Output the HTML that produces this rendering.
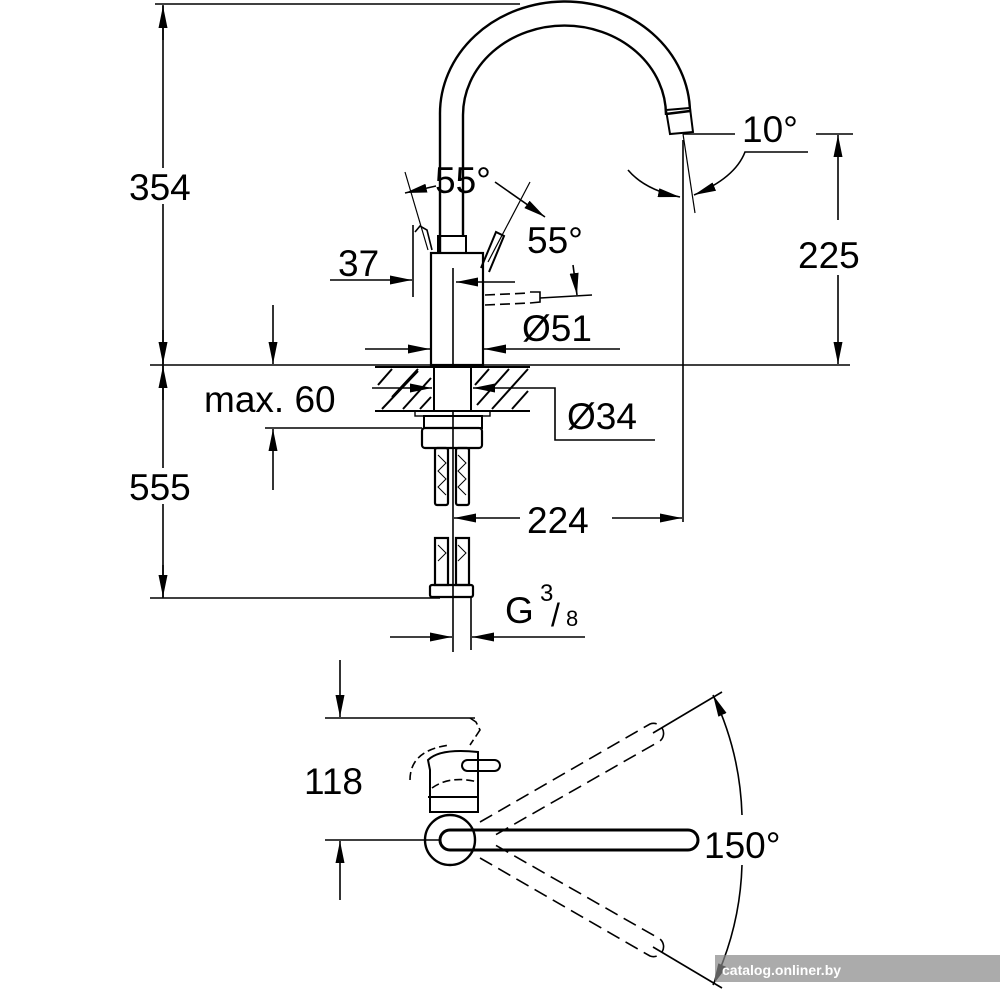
<!DOCTYPE html>
<html><head><meta charset="utf-8"><style>
html,body{margin:0;padding:0;background:#fff;}
svg{display:block;}
text{font-family:"Liberation Sans",sans-serif;fill:#000;}
</style></head><body>
<svg width="1000" height="1000" viewBox="0 0 1000 1000" xmlns="http://www.w3.org/2000/svg">
<defs>
<marker id="a" viewBox="0 0 10 10" refX="10" refY="5" markerWidth="22" markerHeight="9" markerUnits="userSpaceOnUse" orient="auto" preserveAspectRatio="none"><path d="M0,0 L10,5 L0,10z" fill="#000"/></marker>
</defs>
<g stroke="#000" stroke-width="1.6" fill="none">
<!-- left dimension 354/555 -->
<line x1="163" y1="5" x2="163" y2="598"/>
<line x1="155" y1="4" x2="520" y2="4"/>
<line x1="150" y1="365" x2="850" y2="365"/>
<line x1="150" y1="598" x2="440" y2="598"/>
<line x1="163" y1="330" x2="163" y2="364" marker-end="url(#a)"/>
<line x1="163" y1="40" x2="163" y2="6" marker-end="url(#a)"/>
<line x1="163" y1="400" x2="163" y2="366" marker-end="url(#a)"/>
<line x1="163" y1="565" x2="163" y2="597" marker-end="url(#a)"/>
<!-- spout -->
<path d="M440,253 L440,115 A125,112 0 0 1 690,112" stroke-width="2.4"/>
<path d="M463,235 L463,115 A101,89 0 0 1 666,115" stroke-width="2.4"/>
<path d="M666,110 L670,134 L693,132 L690,108z" stroke-width="2" fill="#fff"/>
<line x1="666" y1="114" x2="690" y2="111" stroke-width="2.4"/>
<!-- body -->
<rect x="431" y="253" width="52" height="112" stroke-width="2.2"/>
<rect x="438" y="236" width="28" height="17" stroke-width="2"/>
<line x1="453" y1="268" x2="453" y2="652"/>
<!-- lever right -->
<path d="M481,268 L496,232 L504,236 L489,272" stroke-width="2"/>
<path d="M415,232 L420,226 L427,230 L432,250" stroke-width="1.6"/>
<line x1="405" y1="172" x2="428" y2="250" stroke-width="1.2"/>
<line x1="530" y1="182" x2="488" y2="262" stroke-width="1.2"/>
<path d="M436,186 L405,193" marker-end="url(#a)"/>
<path d="M495,182 L545,217" marker-end="url(#a)"/>
<!-- 37 -->
<line x1="330" y1="280" x2="412" y2="280" marker-end="url(#a)"/>
<line x1="413" y1="225" x2="413" y2="297"/>
<line x1="515" y1="282" x2="456" y2="282" marker-end="url(#a)"/>
<!-- dashed lever -->
<path d="M485,295 L530,293 M485,305 L530,303" stroke-dasharray="10 5"/>
<path d="M530,292 L540,292 L540,302 L530,303"/>
<line x1="540" y1="298" x2="592" y2="295"/>
<line x1="573" y1="265" x2="577" y2="295" marker-end="url(#a)"/>
<!-- Ø51 -->
<line x1="365" y1="349" x2="430" y2="349" marker-end="url(#a)"/>
<line x1="620" y1="349" x2="484" y2="349" marker-end="url(#a)"/>
<!-- counter hatch -->
<g stroke-width="2">
<path d="M378,385 L392,369 M392,397 L418,369 M382,409 L418,371 M403,409 L431,378 M420,409 L431,397"/>
<path d="M475,385 L489,369 M477,405 L509,369 M492,409 L528,369 M512,409 L528,391"/>
</g>
<line x1="375" y1="367" x2="530" y2="367" stroke-width="2"/>
<line x1="375" y1="411" x2="530" y2="411" stroke-width="2"/>
<rect x="434" y="367" width="37" height="44" fill="#fff" stroke-width="2"/>
<line x1="372" y1="388" x2="432" y2="388" marker-end="url(#a)"/>
<line x1="520" y1="388" x2="473" y2="388" marker-end="url(#a)"/>
<path d="M520,388 L555,388 L555,440 L655,440"/>
<!-- nut -->
<rect x="415" y="411" width="75" height="5" stroke-width="1.4"/>
<rect x="424" y="416" width="58" height="12" stroke-width="2"/>
<rect x="422" y="428" width="60" height="20" rx="3" stroke-width="2.2"/>
<!-- hoses -->
<g stroke-width="2.2">
<rect x="435" y="448" width="13" height="57" rx="2"/>
<rect x="456" y="448" width="13" height="57" rx="2"/>
<rect x="435" y="538" width="13" height="47"/>
<rect x="456" y="538" width="13" height="47"/>
<rect x="430" y="585" width="43" height="12" rx="2"/>
</g>
<path d="M438,455 L446,463 L438,471 L446,479 L438,487 L446,495 M458,455 L466,463 L458,471 L466,479 L458,487 L466,495 M438,545 L446,553 L438,561 M458,545 L466,553 L458,561" stroke-width="1"/>
<!-- max 60 -->
<line x1="273" y1="305" x2="273" y2="364" marker-end="url(#a)"/>
<line x1="273" y1="490" x2="273" y2="429" marker-end="url(#a)"/>
<line x1="265" y1="428" x2="422" y2="428"/>
<!-- 224 -->
<line x1="683" y1="140" x2="683" y2="522"/>
<line x1="520" y1="518" x2="454" y2="518" marker-end="url(#a)"/>
<line x1="612" y1="518" x2="682" y2="518" marker-end="url(#a)"/>
<!-- G3/8 -->
<line x1="471" y1="598" x2="471" y2="650"/>
<line x1="390" y1="637" x2="452" y2="637" marker-end="url(#a)"/>
<line x1="585" y1="637" x2="472" y2="637" marker-end="url(#a)"/>
<!-- 10° / 225 -->
<line x1="683" y1="134" x2="735" y2="134"/>
<line x1="816" y1="134" x2="853" y2="134"/>
<line x1="683" y1="134" x2="695" y2="213" stroke-width="1.2"/>
<path d="M808,152 L745,152 Q735,178 694,195" marker-end="url(#a)"/>
<path d="M628,170 Q645,190 680,197" marker-end="url(#a)"/>
<line x1="838" y1="220" x2="838" y2="135" marker-end="url(#a)"/>
<line x1="838" y1="275" x2="838" y2="364" marker-end="url(#a)"/>
<!-- top view -->
<line x1="340" y1="660" x2="340" y2="717" marker-end="url(#a)"/>
<line x1="325" y1="718" x2="475" y2="718"/>
<line x1="340" y1="900" x2="340" y2="841" marker-end="url(#a)"/>
<line x1="325" y1="840" x2="440" y2="840"/>
<path d="M470,718 L476,722 L480,730 L470,745" stroke-dasharray="10 4"/>
<path d="M428,760 Q440,748 478,752 L478,812 L430,812 L430,770z" stroke-width="2"/>
<path d="M428,797 L478,797" stroke-width="2"/>
<path d="M410,780 Q410,750 450,745 M432,788 Q450,775 478,782" stroke-dasharray="8 4"/>
<rect x="462" y="760" width="38" height="11" rx="5.5" stroke-width="2"/>
<circle cx="450" cy="840" r="25" stroke-width="2.4"/>
<path d="M450,830 L688,830 A10,10 0 0 1 688,850 L450,850 A10,10 0 0 1 450,830z" stroke-width="3"/>
<g stroke-dasharray="14 7" stroke-width="1.6">
<path d="M480,822 L650,724 A10,10 0 0 1 660,741 L490,838"/>
<path d="M480,858 L650,956 A10,10 0 0 0 660,939 L490,842"/>
</g>
<line x1="653" y1="733" x2="722" y2="692"/>
<line x1="653" y1="947" x2="722" y2="988"/>
<path d="M742,815 A300,300 0 0 0 713,695" marker-end="url(#a)"/>
<path d="M742,865 A300,300 0 0 1 713,985" marker-end="url(#a)"/>
</g>
<rect x="128" y="168" width="75" height="36" fill="#fff"/>
<rect x="128" y="468" width="75" height="36" fill="#fff"/>
<g font-size="37">
<text x="129" y="200">354</text>
<text x="129" y="500">555</text>
<text x="798" y="268">225</text>
<text x="742" y="142">10°</text>
<text x="435" y="193">55°</text>
<text x="527" y="253">55°</text>
<text x="338" y="276">37</text>
<text x="522" y="341">Ø51</text>
<text x="204" y="412">max. 60</text>
<text x="567" y="429">Ø34</text>
<text x="527" y="533">224</text>
<text x="505" y="623">G</text>
<text x="540" y="601" font-size="24">3</text>
<text x="551" y="626" font-size="32">/</text>
<text x="566" y="626" font-size="22">8</text>
<text x="304" y="794">118</text>
<text x="704" y="858">150°</text>
</g>
<rect x="715" y="955" width="285" height="27" fill="#888" opacity="0.7"/>
<text x="722" y="975" font-size="14" style="fill:#fff" font-weight="bold">catalog.onliner.by</text>
</svg>
</body></html>
